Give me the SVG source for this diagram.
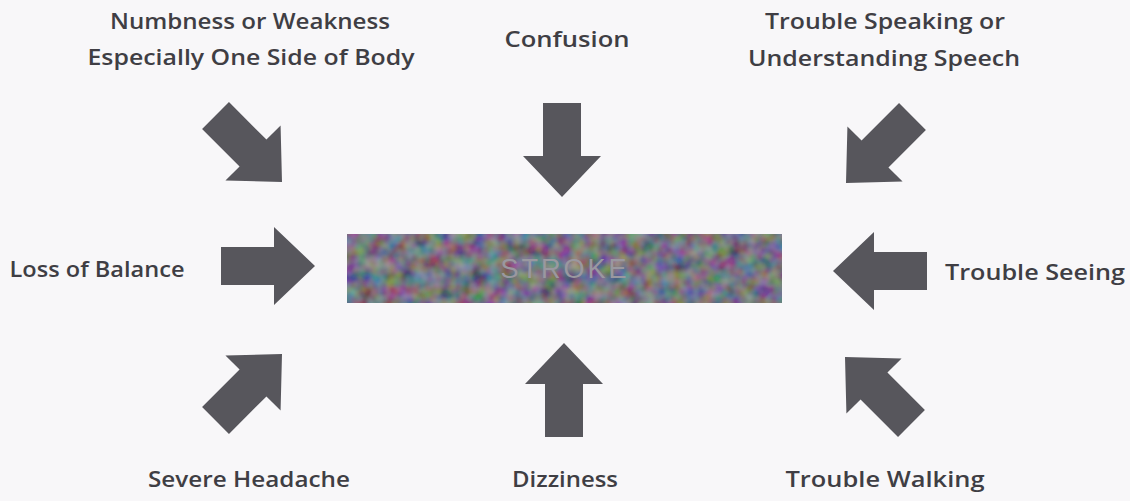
<svg xmlns="http://www.w3.org/2000/svg" width="1130" height="501" viewBox="0 0 1130 501">
<style>
.lbl{font-family:"Open Sans","Liberation Sans",sans-serif;font-weight:600;font-size:21px;fill:#3f3e44;text-anchor:middle}
.arr{fill:#57565c}
</style>
<defs>
<path id="arrow" d="M-94,-19 H-41 V-39 L0,0 L-41,39 V19 H-94 Z"/>
<filter id="noise" x="0" y="0" width="100%" height="100%">
<feTurbulence type="fractalNoise" baseFrequency="0.07" numOctaves="2" seed="7" result="t"/>
<feColorMatrix in="t" type="matrix" values="1.1 0 0 0 -0.25  0 1.1 0 0 -0.25  0 0 1.2 0 -0.25  0 0 0 0 0.4" result="c"/>
<feComposite in="c" in2="SourceGraphic" operator="atop"/>
</filter>
</defs>
<rect width="1130" height="501" fill="#f8f7f9"/>
<g id="stroke">
<rect x="347" y="234" width="435" height="69" fill="#5e5a66" filter="url(#noise)"/>
<text x="565" y="278" style="font-family:'Liberation Sans',sans-serif;font-size:27px;fill:#9a98a0;text-anchor:middle;letter-spacing:3px">STROKE</text>
</g>
<g id="connectors" class="arr">
<use href="#arrow" transform="translate(282,182) rotate(45)"/>
<use href="#arrow" transform="translate(562,197) rotate(90)"/>
<use href="#arrow" transform="translate(846,183) rotate(135)"/>
<use href="#arrow" transform="translate(315,266)"/>
<use href="#arrow" transform="translate(833,271) rotate(180)"/>
<use href="#arrow" transform="translate(282,354) rotate(-45)"/>
<use href="#arrow" transform="translate(564,343) rotate(-90)"/>
<use href="#arrow" transform="translate(845,357) rotate(-135)"/>
</g>
<g id="n-numbness">
<text class="lbl" x="250" y="29" textLength="280" lengthAdjust="spacingAndGlyphs">Numbness or Weakness</text>
<text class="lbl" x="251" y="65" textLength="327" lengthAdjust="spacingAndGlyphs">Especially One Side of Body</text>
</g>
<g id="n-confusion"><text class="lbl" x="567" y="47" textLength="125" lengthAdjust="spacingAndGlyphs">Confusion</text></g>
<g id="n-speaking">
<text class="lbl" x="885" y="29" textLength="240" lengthAdjust="spacingAndGlyphs">Trouble Speaking or</text>
<text class="lbl" x="884" y="66" textLength="272" lengthAdjust="spacingAndGlyphs">Understanding Speech</text>
</g>
<g id="n-balance"><text class="lbl" x="97" y="277" textLength="175" lengthAdjust="spacingAndGlyphs">Loss of Balance</text></g>
<g id="n-seeing"><text class="lbl" x="1035" y="280" textLength="180" lengthAdjust="spacingAndGlyphs">Trouble Seeing</text></g>
<g id="n-headache"><text class="lbl" x="249" y="487" textLength="202" lengthAdjust="spacingAndGlyphs">Severe Headache</text></g>
<g id="n-dizziness"><text class="lbl" x="565" y="487" textLength="106" lengthAdjust="spacingAndGlyphs">Dizziness</text></g>
<g id="n-walking"><text class="lbl" x="885" y="487" textLength="199" lengthAdjust="spacingAndGlyphs">Trouble Walking</text></g>
</svg>
